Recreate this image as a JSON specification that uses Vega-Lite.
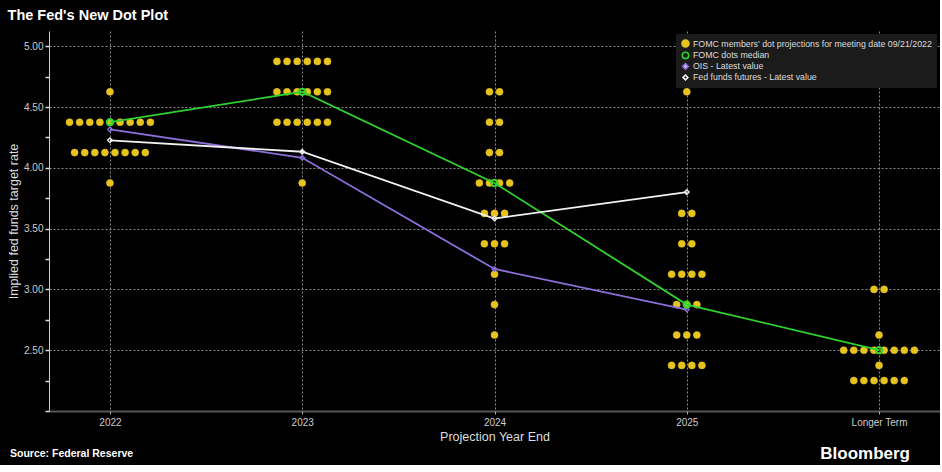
{
  "$schema": "https://vega.github.io/schema/vega-lite/v6.json",
  "background": "#000000",
  "padding": {"left": 7, "top": 7, "right": 0, "bottom": 0},
  "title": {"text": "The Fed's New Dot Plot", "anchor": "start", "frame": "bounds", "fontSize": 14.5, "font": "Liberation Sans", "fontWeight": "bold", "color": "#ffffff", "offset": 8},
  "config": {"view": {"stroke": null}, "font": "Liberation Sans"},
  "vconcat": [
    {
      "width": 891,
      "height": 380,
      "data": {"values": [
        {"s": "dots", "year": "2022", "rate": 4.625},
        {"s": "dots", "year": "2022", "rate": 4.375},
        {"s": "dots", "year": "2022", "rate": 4.375},
        {"s": "dots", "year": "2022", "rate": 4.375},
        {"s": "dots", "year": "2022", "rate": 4.375},
        {"s": "dots", "year": "2022", "rate": 4.375},
        {"s": "dots", "year": "2022", "rate": 4.375},
        {"s": "dots", "year": "2022", "rate": 4.375},
        {"s": "dots", "year": "2022", "rate": 4.375},
        {"s": "dots", "year": "2022", "rate": 4.375},
        {"s": "dots", "year": "2022", "rate": 4.125},
        {"s": "dots", "year": "2022", "rate": 4.125},
        {"s": "dots", "year": "2022", "rate": 4.125},
        {"s": "dots", "year": "2022", "rate": 4.125},
        {"s": "dots", "year": "2022", "rate": 4.125},
        {"s": "dots", "year": "2022", "rate": 4.125},
        {"s": "dots", "year": "2022", "rate": 4.125},
        {"s": "dots", "year": "2022", "rate": 4.125},
        {"s": "dots", "year": "2022", "rate": 3.875},
        {"s": "dots", "year": "2023", "rate": 4.875},
        {"s": "dots", "year": "2023", "rate": 4.875},
        {"s": "dots", "year": "2023", "rate": 4.875},
        {"s": "dots", "year": "2023", "rate": 4.875},
        {"s": "dots", "year": "2023", "rate": 4.875},
        {"s": "dots", "year": "2023", "rate": 4.875},
        {"s": "dots", "year": "2023", "rate": 4.625},
        {"s": "dots", "year": "2023", "rate": 4.625},
        {"s": "dots", "year": "2023", "rate": 4.625},
        {"s": "dots", "year": "2023", "rate": 4.625},
        {"s": "dots", "year": "2023", "rate": 4.625},
        {"s": "dots", "year": "2023", "rate": 4.625},
        {"s": "dots", "year": "2023", "rate": 4.375},
        {"s": "dots", "year": "2023", "rate": 4.375},
        {"s": "dots", "year": "2023", "rate": 4.375},
        {"s": "dots", "year": "2023", "rate": 4.375},
        {"s": "dots", "year": "2023", "rate": 4.375},
        {"s": "dots", "year": "2023", "rate": 4.375},
        {"s": "dots", "year": "2023", "rate": 3.875},
        {"s": "dots", "year": "2024", "rate": 4.625},
        {"s": "dots", "year": "2024", "rate": 4.625},
        {"s": "dots", "year": "2024", "rate": 4.375},
        {"s": "dots", "year": "2024", "rate": 4.375},
        {"s": "dots", "year": "2024", "rate": 4.125},
        {"s": "dots", "year": "2024", "rate": 4.125},
        {"s": "dots", "year": "2024", "rate": 3.875},
        {"s": "dots", "year": "2024", "rate": 3.875},
        {"s": "dots", "year": "2024", "rate": 3.875},
        {"s": "dots", "year": "2024", "rate": 3.875},
        {"s": "dots", "year": "2024", "rate": 3.625},
        {"s": "dots", "year": "2024", "rate": 3.625},
        {"s": "dots", "year": "2024", "rate": 3.625},
        {"s": "dots", "year": "2024", "rate": 3.375},
        {"s": "dots", "year": "2024", "rate": 3.375},
        {"s": "dots", "year": "2024", "rate": 3.375},
        {"s": "dots", "year": "2024", "rate": 3.125},
        {"s": "dots", "year": "2024", "rate": 2.875},
        {"s": "dots", "year": "2024", "rate": 2.625},
        {"s": "dots", "year": "2025", "rate": 4.625},
        {"s": "dots", "year": "2025", "rate": 3.625},
        {"s": "dots", "year": "2025", "rate": 3.625},
        {"s": "dots", "year": "2025", "rate": 3.375},
        {"s": "dots", "year": "2025", "rate": 3.375},
        {"s": "dots", "year": "2025", "rate": 3.125},
        {"s": "dots", "year": "2025", "rate": 3.125},
        {"s": "dots", "year": "2025", "rate": 3.125},
        {"s": "dots", "year": "2025", "rate": 3.125},
        {"s": "dots", "year": "2025", "rate": 2.875},
        {"s": "dots", "year": "2025", "rate": 2.875},
        {"s": "dots", "year": "2025", "rate": 2.875},
        {"s": "dots", "year": "2025", "rate": 2.625},
        {"s": "dots", "year": "2025", "rate": 2.625},
        {"s": "dots", "year": "2025", "rate": 2.625},
        {"s": "dots", "year": "2025", "rate": 2.375},
        {"s": "dots", "year": "2025", "rate": 2.375},
        {"s": "dots", "year": "2025", "rate": 2.375},
        {"s": "dots", "year": "2025", "rate": 2.375},
        {"s": "dots", "year": "Longer Term", "rate": 3.0},
        {"s": "dots", "year": "Longer Term", "rate": 3.0},
        {"s": "dots", "year": "Longer Term", "rate": 2.625},
        {"s": "dots", "year": "Longer Term", "rate": 2.5},
        {"s": "dots", "year": "Longer Term", "rate": 2.5},
        {"s": "dots", "year": "Longer Term", "rate": 2.5},
        {"s": "dots", "year": "Longer Term", "rate": 2.5},
        {"s": "dots", "year": "Longer Term", "rate": 2.5},
        {"s": "dots", "year": "Longer Term", "rate": 2.5},
        {"s": "dots", "year": "Longer Term", "rate": 2.5},
        {"s": "dots", "year": "Longer Term", "rate": 2.5},
        {"s": "dots", "year": "Longer Term", "rate": 2.375},
        {"s": "dots", "year": "Longer Term", "rate": 2.25},
        {"s": "dots", "year": "Longer Term", "rate": 2.25},
        {"s": "dots", "year": "Longer Term", "rate": 2.25},
        {"s": "dots", "year": "Longer Term", "rate": 2.25},
        {"s": "dots", "year": "Longer Term", "rate": 2.25},
        {"s": "dots", "year": "Longer Term", "rate": 2.25},
        {"s": "median", "year": "2022", "rate": 4.375},
        {"s": "median", "year": "2023", "rate": 4.625},
        {"s": "median", "year": "2024", "rate": 3.875},
        {"s": "median", "year": "2025", "rate": 2.875},
        {"s": "median", "year": "Longer Term", "rate": 2.5},
        {"s": "OIS", "year": "2022", "rate": 4.316},
        {"s": "OIS", "year": "2023", "rate": 4.082},
        {"s": "OIS", "year": "2024", "rate": 3.168},
        {"s": "OIS", "year": "2025", "rate": 2.834},
        {"s": "futures", "year": "2022", "rate": 4.226},
        {"s": "futures", "year": "2023", "rate": 4.132},
        {"s": "futures", "year": "2024", "rate": 3.583},
        {"s": "futures", "year": "2025", "rate": 3.80}
      ]},
      "encoding": {
        "x": {"field": "year", "type": "nominal", "sort": null,
          "scale": {"type": "point", "padding": 0.317, "domain": ["2022", "2023", "2024", "2025", "Longer Term"]},
          "axis": {"title": "Projection Year End", "labelAngle": 0, "labelColor": "#cccccc", "labelFontSize": 10, "labelPadding": 3,
            "grid": true, "gridColor": "#8a8a8a", "gridDash": [2, 2], "gridWidth": 1,
            "domainColor": "#aaaaaa", "domainDash": [1, 1], "domainWidth": 2,
            "tickColor": "#aaaaaa", "tickSize": 3,
            "titleColor": "#dddddd", "titleFontSize": 12.5, "titleFontWeight": "normal", "titlePadding": 3}},
        "y": {"field": "rate", "type": "quantitative",
          "scale": {"domain": [2, 5.125], "nice": false, "zero": false},
          "axis": {"title": "Implied fed funds target rate",
            "values": [2, 2.25, 2.5, 2.75, 3, 3.25, 3.5, 3.75, 4, 4.25, 4.5, 4.75, 5],
            "labelExpr": "(datum.value % 0.5 === 0 && datum.value > 2) ? format(datum.value, '.2f') : ''",
            "labelColor": "#cccccc", "labelFontSize": 10, "labelPadding": 2,
            "grid": true, "gridColor": "#8a8a8a", "gridDash": [2, 2], "gridWidth": 1,
            "gridOpacity": {"condition": {"test": "datum.value % 0.5 === 0 && datum.value > 2", "value": 1}, "value": 0},
            "domainColor": "#cccccc", "domainWidth": 1,
            "tickColor": "#dddddd", "tickSize": 4, "tickWidth": 1.5,
            "titleColor": "#dddddd", "titleFontSize": 12.5, "titleFontWeight": "normal", "titlePadding": 3}},
        "stroke": {"field": "s", "type": "nominal",
          "scale": {"domain": ["dots", "median", "OIS", "futures"], "range": ["#e6c31e", "#2fd12f", "#8c6fd9", "#f2f2f2"]},
          "legend": {"title": null, "orient": "none", "legendX": 627, "legendY": 3, "fillColor": "#1b1b1b", "padding": 5,
            "labelFontSize": 8.8, "labelColor": "#dddddd", "labelLimit": 400, "labelOffset": 3, "rowPadding": -4, "symbolStrokeWidth": 1.5,
            "labelExpr": "datum.value === 'dots' ? \"FOMC members' dot projections for meeting date 09/21/2022\" : datum.value === 'median' ? 'FOMC dots median' : datum.value === 'OIS' ? 'OIS - Latest value' : 'Fed funds futures - Latest value'"}}
      },
      "layer": [
        {
          "transform": [
            {"filter": "datum.s === 'dots'"},
            {"window": [{"op": "row_number", "as": "idx"}], "groupby": ["year", "rate"]},
            {"joinaggregate": [{"op": "count", "as": "n"}], "groupby": ["year", "rate"]},
            {"calculate": "datum.idx - (datum.n + 1) / 2", "as": "off"}
          ],
          "mark": {"type": "point", "filled": true, "opacity": 1, "strokeWidth": 0.5},
          "encoding": {
            "xOffset": {"field": "off", "type": "quantitative", "scale": {"domain": [-4, 4], "range": [-40.4, 40.4], "zero": false, "nice": false}},
            "fill": {"field": "s", "type": "nominal", "scale": {"domain": ["dots", "median", "OIS", "futures"], "range": ["#e6c31e", "#1b1b1b", "#c8b8f2", "#1b1b1b"]}, "legend": {"title": null}},
            "shape": {"field": "s", "type": "nominal", "scale": {"domain": ["dots", "median", "OIS", "futures"], "range": ["circle", "circle", "diamond", "diamond"]}, "legend": {"title": null}},
            "size": {"field": "s", "type": "nominal", "scale": {"domain": ["dots", "median", "OIS", "futures"], "range": [50, 24, 22, 22]}, "legend": {"title": null}}
          }
        },
        {
          "transform": [{"filter": "datum.s !== 'dots'"}],
          "mark": {"type": "line", "strokeWidth": 1.8}
        },
        {
          "transform": [{"filter": "datum.s === 'OIS' || datum.s === 'futures'"}],
          "mark": {"type": "point", "shape": "diamond", "filled": false, "size": 22, "strokeWidth": 1.3, "opacity": 1}
        },
        {
          "transform": [{"filter": "datum.s === 'median'"}],
          "mark": {"type": "point", "shape": "circle", "filled": false, "size": 40, "strokeWidth": 2, "opacity": 1}
        }
      ]
    },
    {
      "width": 861,
      "height": 22,
      "layer": [
        {
          "data": {"values": [{"label": "Source: Federal Reserve"}]},
          "mark": {"type": "text", "align": "left", "baseline": "middle", "fontSize": 10.5, "fontWeight": "bold", "color": "#ffffff", "dx": -39},
          "encoding": {
            "x": {"datum": 0, "type": "quantitative", "scale": {"domain": [0, 1]}, "axis": null},
            "text": {"field": "label"}
          }
        },
        {
          "data": {"values": [{"label": "Bloomberg"}]},
          "mark": {"type": "text", "align": "right", "baseline": "middle", "fontSize": 17, "fontWeight": "bold", "color": "#ffffff"},
          "encoding": {
            "x": {"datum": 1, "type": "quantitative", "scale": {"domain": [0, 1]}, "axis": null},
            "text": {"field": "label"}
          }
        }
      ]
    }
  ],
  "spacing": 0,
  "align": "none"
}
